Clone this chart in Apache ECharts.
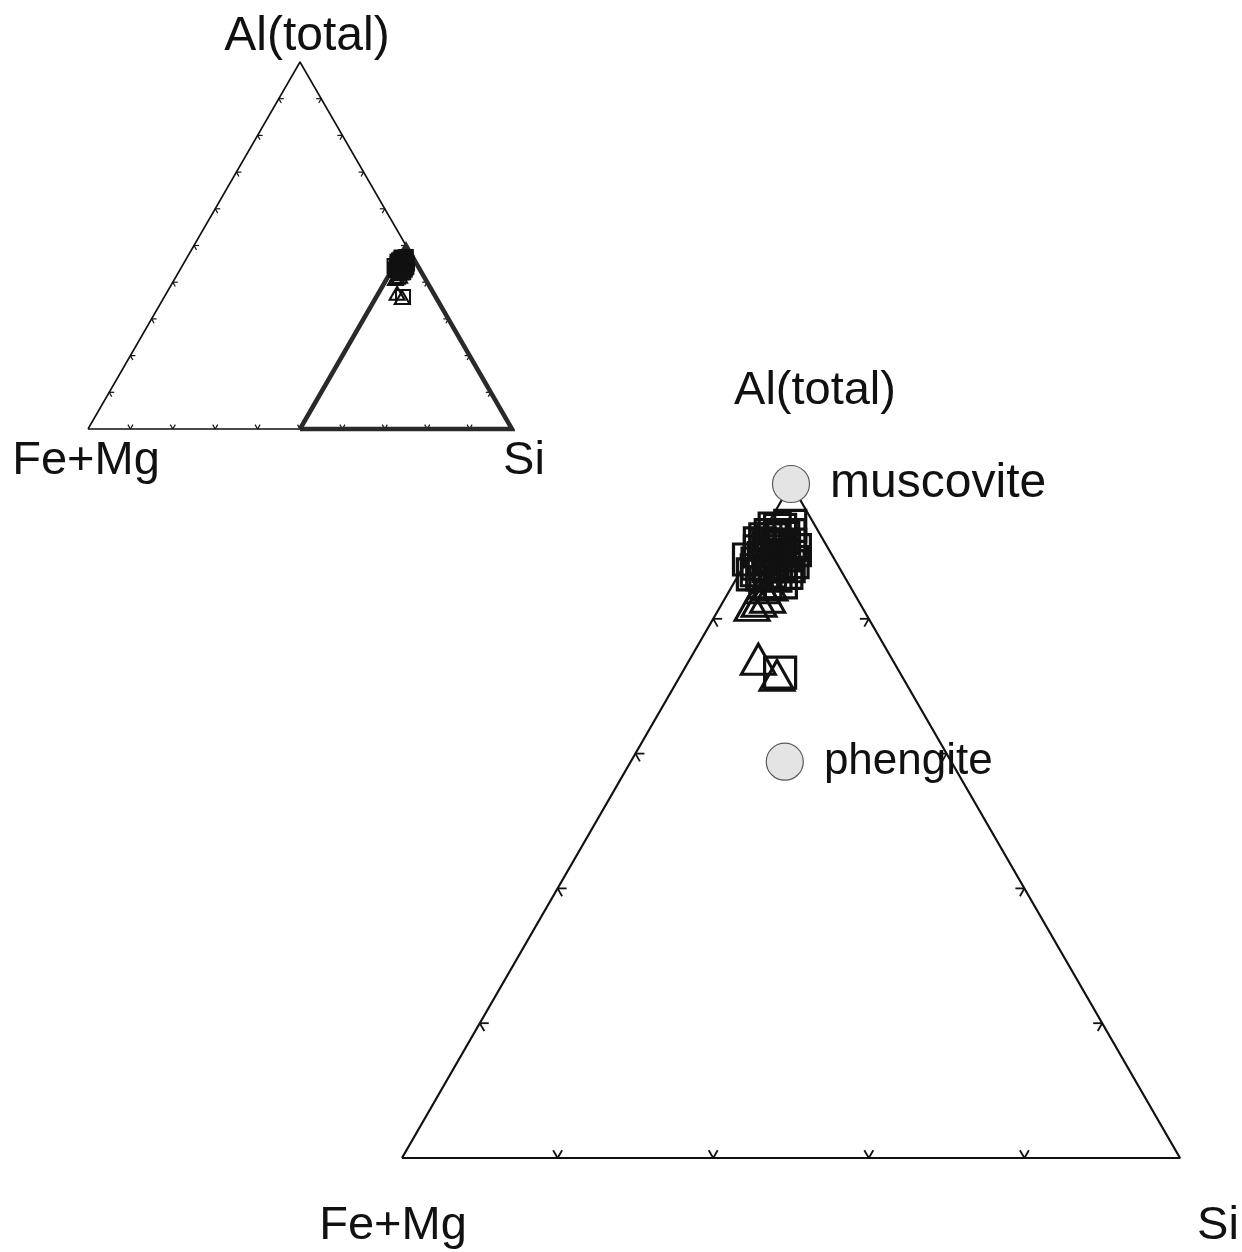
<!DOCTYPE html>
<html>
<head>
<meta charset="utf-8">
<script src="https://cdn.jsdelivr.net/npm/echarts@6/dist/echarts.min.js"></script>
<style>
  html, body { margin: 0; padding: 0; background: #ffffff; }
  #chart { width: 1242px; height: 1252px; }
</style>
</head>
<body>
<div id="chart"></div>
<script>
// White-mica analyses, atomic proportions in percent: Al(total), Fe+Mg, Si
const squareAl   = [46.7, 46.9, 46.2, 46.0, 45.5, 45.3, 45.5, 45.0, 44.7, 44.7, 44.1, 43.9, 44.0, 44.2, 43.3, 43.2, 43.4, 45.9, 46.6, 44.4, 44.5, 43.9, 43.5, 43.6, 45.0,
                    44.4, 43.3, 45.1, 45.3, 45.3, 45.6, 45.9, 46.2, 43.9, 42.7, 42.7, 36.0];
const squareFeMg = [ 2.7,  1.6,  3.2,  2.5,  3.9,  3.2,  2.3,  4.5,  3.9,  3.1,  5.1,  4.5,  3.7,  2.8,  5.2,  4.4,  3.6,  3.7,  2.4,  4.0,  4.5,  3.2,  4.6,  5.4,  3.4,
                     5.5,  5.8,  2.2,  3.8,  2.8,  4.2,  3.2,  2.0,  4.0,  5.3,  4.3,  7.7];
const squareSi   = [50.6, 51.5, 50.6, 51.5, 50.6, 51.5, 52.2, 50.5, 51.4, 52.2, 50.8, 51.6, 52.3, 53.0, 51.5, 52.4, 53.0, 50.4, 51.0, 51.6, 51.0, 52.9, 51.9, 51.0, 51.6,
                    50.1, 50.9, 52.7, 50.9, 51.9, 50.2, 50.9, 51.8, 52.1, 52.0, 53.0, 56.3];

const triangleAl   = [41.0, 41.3, 41.6, 42.3, 42.5, 37.0, 35.8];
const triangleFeMg = [ 7.0,  6.4,  5.7,  5.7,  5.1,  8.6,  8.0];
const triangleSi   = [52.0, 52.3, 52.7, 52.0, 52.4, 54.4, 56.2];

// End-member reference compositions
const refNames = ['muscovite', 'phengite'];
const refAl    = [50.0, 29.4];
const refFeMg  = [ 0.0, 10.7];
const refSi    = [50.0, 59.9];

// Grid-line values marked on the edges
const fullTicks = [10, 20, 30, 40, 50, 60, 70, 80, 90];
const zoomTicks = [10, 20, 30, 40];

const apexTitle = 'Al(total)';
const leftTitle = 'Fe+Mg';
const rightTitle = 'Si';

// ---- ternary -> cartesian (x along base 0..100, y = height) ----
const H = Math.sqrt(3) / 2;
function tern(al, fm, si) {
  const s = al + fm + si;
  return [100 * (si + al / 2) / s, 100 * H * al / s];
}
function zipTern(a, f, s) { return a.map((v, i) => tern(v, f[i], s[i])); }

const squares = zipTern(squareAl, squareFeMg, squareSi);
const triangles = zipTern(triangleAl, triangleFeMg, triangleSi);
const refs = refNames.map((n, i) => ({ name: n, value: tern(refAl[i], refFeMg[i], refSi[i]) }));

// edge codes: 0 = left (Fe+Mg–Al), 1 = right (Al–Si), 2 = base (Fe+Mg–Si)
const fullTickData = [].concat(
  fullTicks.map(v => tern(v, 100 - v, 0).concat(0)),
  fullTicks.map(v => tern(v, 0, 100 - v).concat(1)),
  fullTicks.map(v => tern(0, 100 - v, v).concat(2))
);
const zoomTickData = [].concat(
  zoomTicks.map(v => tern(v, 50 - v, 50).concat(0)),
  zoomTicks.map(v => tern(v, 0, 100 - v).concat(1)),
  zoomTicks.map(v => tern(0, 50 - v, 50 + v).concat(2))
);

const outerFrame = [tern(0, 100, 0), tern(100, 0, 0), tern(0, 0, 100), tern(0, 100, 0)];
const subFrame = [tern(0, 50, 50), tern(50, 0, 50), tern(0, 0, 100), tern(0, 50, 50)];

const INK = '#111111';

function tickRenderer(len, width) {
  const dirs = [
    [[1, 0], [0.5, H]],
    [[-1, 0], [-0.5, H]],
    [[-0.5, -H], [0.5, -H]]
  ];
  return function (params, api) {
    const p = api.coord([api.value(0), api.value(1)]);
    const d = dirs[api.value(2)];
    return {
      type: 'group',
      children: d.map(v => ({
        type: 'line',
        shape: { x1: p[0], y1: p[1], x2: p[0] + v[0] * len, y2: p[1] + v[1] * len },
        style: { stroke: INK, lineWidth: width }
      }))
    };
  };
}

function hollow(width) {
  return { color: 'rgba(0,0,0,0)', borderColor: INK, borderWidth: width, opacity: 1 };
}

const chart = echarts.init(document.getElementById('chart'), null, { renderer: 'canvas' });

const hiddenAxis = { show: false, splitLine: { show: false } };

const option = {
  backgroundColor: '#ffffff',
  animation: false,
  grid: [
    { left: 88, top: 62, width: 424, height: 367 },
    { left: 402, top: 484, width: 778, height: 674 }
  ],
  xAxis: [
    Object.assign({ type: 'value', gridIndex: 0, min: 0, max: 100 }, hiddenAxis),
    Object.assign({ type: 'value', gridIndex: 1, min: 50, max: 100 }, hiddenAxis)
  ],
  yAxis: [
    Object.assign({ type: 'value', gridIndex: 0, min: 0, max: 100 * H }, hiddenAxis),
    Object.assign({ type: 'value', gridIndex: 1, min: 0, max: 50 * H }, hiddenAxis)
  ],
  series: [
    // ---------- full diagram ----------
    {
      type: 'line', xAxisIndex: 0, yAxisIndex: 0, data: outerFrame, clip: false,
      symbol: 'none', lineStyle: { color: INK, width: 1.6 }, z: 2
    },
    {
      type: 'custom', xAxisIndex: 0, yAxisIndex: 0, data: fullTickData, clip: false,
      renderItem: tickRenderer(5, 1.2), z: 3
    },
    {
      type: 'line', xAxisIndex: 0, yAxisIndex: 0, data: subFrame, clip: false,
      symbol: 'none', lineStyle: { color: '#2a2a2a', width: 4.5, join: 'miter' }, z: 4
    },
    {
      type: 'scatter', xAxisIndex: 0, yAxisIndex: 0, data: triangles, clip: false,
      symbol: 'triangle', symbolSize: [15, 13], itemStyle: hollow(2), z: 5
    },
    {
      type: 'scatter', xAxisIndex: 0, yAxisIndex: 0, data: squares, clip: false,
      symbol: 'rect', symbolSize: 14, itemStyle: hollow(2), z: 6
    },
    // ---------- enlarged Si-rich corner ----------
    {
      type: 'line', xAxisIndex: 1, yAxisIndex: 1, data: subFrame, clip: false,
      symbol: 'none', lineStyle: { color: INK, width: 2.2 }, z: 2
    },
    {
      type: 'custom', xAxisIndex: 1, yAxisIndex: 1, data: zoomTickData, clip: false,
      renderItem: tickRenderer(9, 1.8), z: 3
    },
    {
      type: 'scatter', xAxisIndex: 1, yAxisIndex: 1, data: triangles, clip: false,
      symbol: 'triangle', symbolSize: [34, 30], itemStyle: hollow(3), z: 5
    },
    {
      type: 'scatter', xAxisIndex: 1, yAxisIndex: 1, data: squares, clip: false,
      symbol: 'rect', symbolSize: 31, itemStyle: hollow(3.2), z: 6
    },
    {
      type: 'scatter', xAxisIndex: 1, yAxisIndex: 1, clip: false,
      symbol: 'circle', symbolSize: 37,
      itemStyle: { color: '#e4e4e4', borderColor: '#5a5a5a', borderWidth: 1.2, opacity: 1 },
      label: {
        show: true, position: 'right', distance: 20,
        formatter: p => p.name,
        fontFamily: 'Liberation Sans', color: '#111111'
      },
      labelLayout: { hideOverlap: false },
      z: 7
    }
  ]
};

// per-item label sizes for the reference end-members
option.series[9].data = refs.map((r, i) => Object.assign({}, r, {
  label: i === 0 ? { fontSize: 48, offset: [0, -7] } : { fontSize: 44, offset: [0, 1] }
}));

function vertexText(text, x, y, size) {
  return {
    type: 'text', x: x, y: y, z: 10,
    style: {
      text: text, x: 0, y: 0, align: 'center', verticalAlign: 'middle',
      font: size + 'px "Liberation Sans"', fill: '#111111'
    }
  };
}

option.graphic = [
  vertexText(apexTitle, 307, 37, 48),
  vertexText(leftTitle, 86, 461, 47),
  vertexText(rightTitle, 524, 461, 47),
  vertexText(apexTitle, 815, 391, 47),
  vertexText(leftTitle, 393, 1226, 47),
  vertexText(rightTitle, 1218, 1226, 47)
];

chart.setOption(option);
</script>
</body>
</html>
